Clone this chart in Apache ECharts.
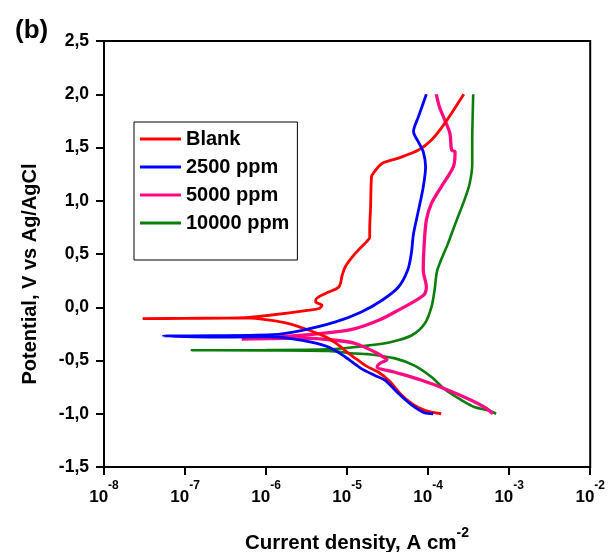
<!DOCTYPE html>
<html>
<head>
<meta charset="utf-8">
<script src="https://cdn.jsdelivr.net/npm/echarts@6/dist/echarts.min.js"></script>
<style>
  html, body { margin: 0; padding: 0; background: #fff; }
  #chart { width: 608px; height: 552px; }
</style>
</head>
<body>
<div id="chart"></div>
<script>
// Tafel polarization curves: current density (A cm^-2) vs potential (V vs Ag/AgCl)
// Each curve runs from the cathodic end (-1.0 V) through Ecorr up to +2.0 V.
const seriesNames = ['Blank', '2500 ppm', '5000 ppm', '10000 ppm'];

const blankCurrent = [1.45e-4, 9.1e-5, 6.3e-5, 4.5e-5, 3.4e-5, 2.45e-5, 1.8e-5, 1.38e-5, 1.05e-5, 7.9e-6,
  5.4e-6, 3.4e-6, 1.9e-6, 1.1e-6, 5.6e-7, 1.0e-7, 3.0e-8, 1.0e-7, 5.6e-7, 1.1e-6,
  3.4e-6, 4.5e-6, 4.9e-6, 4.1e-6, 4.1e-6, 5.4e-6, 7.9e-6, 8.7e-6, 9.5e-6, 1.26e-5,
  1.66e-5, 1.9e-5, 1.9e-5, 1.95e-5, 2.0e-5, 2.1e-5, 2.7e-5, 4.3e-5, 7.6e-5, 1.1e-4,
  1.6e-4, 2.75e-4];
const blankPotential = [-1.00, -0.968, -0.905, -0.81, -0.70, -0.61, -0.56, -0.50, -0.435, -0.357,
  -0.278, -0.216, -0.153, -0.12, -0.10, -0.105, -0.106, -0.104, -0.097, -0.075,
  -0.028, -0.012, 0.019, 0.05, 0.07, 0.13, 0.19, 0.30, 0.38, 0.505,
  0.60, 0.66, 0.72, 0.95, 1.225, 1.257, 1.35, 1.40, 1.476, 1.57,
  1.726, 2.0];

const ppm2500Current = [1.15e-4, 9.1e-5, 6.3e-5, 4.3e-5, 2.95e-5, 2.2e-5, 1.5e-5, 9.5e-6, 5.9e-6, 2.8e-6,
  1.1e-6, 3.9e-7, 5.4e-8, 1.2e-7, 1.2e-6, 2.8e-6, 7.2e-6, 1.5e-5, 2.7e-5, 4.3e-5,
  5.6e-5, 6.2e-5, 6.6e-5, 7.6e-5, 8.7e-5, 9.3e-5, 8.7e-5, 7.6e-5, 6.6e-5, 7.6e-5,
  9.5e-5];
const ppm2500Potential = [-1.0, -0.993, -0.92, -0.81, -0.686, -0.64, -0.576, -0.467, -0.373, -0.31,
  -0.278, -0.28, -0.27, -0.268, -0.257, -0.216, -0.138, -0.044, 0.066, 0.19,
  0.35, 0.505, 0.69, 0.91, 1.13, 1.32, 1.46, 1.55, 1.65, 1.79,
  2.0];

const ppm5000Current = [6.3e-4, 4.9e-4, 3.1e-4, 1.6e-4, 8.3e-5, 3.9e-5, 2.35e-5, 2.5e-5, 3.1e-5, 2.8e-5,
  2.2e-5, 1.26e-5, 7.2e-6, 2.8e-6, 5.0e-7, 1.1e-6, 2.8e-6, 7.2e-6, 1.26e-5, 2.45e-5,
  3.9e-5, 8.7e-5, 9.5e-5, 8.7e-5, 8.9e-5, 9.5e-5, 1.1e-4, 1.45e-4, 2.05e-4, 2.15e-4,
  1.95e-4, 1.86e-4, 1.6e-4, 1.38e-4, 1.26e-4];
const ppm5000Potential = [-1.0, -0.937, -0.86, -0.766, -0.686, -0.61, -0.56, -0.53, -0.49, -0.467,
  -0.42, -0.34, -0.31, -0.29, -0.30, -0.285, -0.263, -0.232, -0.20, -0.122,
  -0.044, 0.11, 0.19, 0.35, 0.567, 0.818, 0.975, 1.13, 1.32, 1.46,
  1.476, 1.63, 1.76, 1.88, 2.0];

const ppm10000Current = [6.9e-4, 5.5e-4, 3.7e-4, 2.6e-4, 1.6e-4, 1.1e-4, 6.9e-5, 3.9e-5, 1.8e-5, 1.26e-5,
  5.9e-6, 1.0e-6, 1.2e-7, 1.0e-6, 5.9e-6, 1.05e-5, 1.8e-5, 3.5e-5, 6.3e-5, 9.1e-5,
  1.1e-4, 1.2e-4, 1.3e-4, 1.76e-4, 2.25e-4, 2.8e-4, 3.25e-4, 3.5e-4, 3.5e-4, 3.55e-4,
  3.6e-4];
const ppm10000Potential = [-1.0, -0.968, -0.937, -0.874, -0.77, -0.655, -0.55, -0.48, -0.44, -0.435,
  -0.41, -0.405, -0.404, -0.402, -0.395, -0.38, -0.36, -0.326, -0.263, -0.153,
  0.003, 0.16, 0.35, 0.60, 0.818, 1.006, 1.16, 1.35, 1.57, 1.82,
  2.0];

const xTickExponents = [-8, -7, -6, -5, -4, -3, -2];
const yTicks = [-1.5, -1.0, -0.5, 0.0, 0.5, 1.0, 1.5, 2.0, 2.5];

const FONT = '"Liberation Sans", Arial, sans-serif';
const pairs = (xs, ys) => xs.map((x, i) => [x, ys[i]]);

const curves = [
  { name: seriesNames[0], color: '#ff0000', width: 2.8, z: 4, data: pairs(blankCurrent, blankPotential) },
  { name: seriesNames[1], color: '#0000ff', width: 2.8, z: 5, data: pairs(ppm2500Current, ppm2500Potential) },
  { name: seriesNames[2], color: '#ff0a82', width: 3.3, z: 3, data: pairs(ppm5000Current, ppm5000Potential) },
  { name: seriesNames[3], color: '#0a7d0a', width: 2.6, z: 2, data: pairs(ppm10000Current, ppm10000Potential) }
];

const chart = echarts.init(document.getElementById('chart'), null, { renderer: 'canvas' });

chart.setOption({
  animation: false,
  backgroundColor: '#fff',
  textStyle: { fontFamily: FONT },
  title: {
    text: '(b)', left: 10, top: 13,
    textStyle: { fontFamily: FONT, fontSize: 26, fontWeight: 'bold', color: '#000' }
  },
  grid: {
    left: 104, right: 15, top: 41, bottom: 85,
    show: true, borderColor: '#000', borderWidth: 2, backgroundColor: 'transparent'
  },
  legend: {
    data: seriesNames,
    orient: 'vertical',
    left: 134, top: 122,
    padding: [6, 8, 26, 6],
    itemGap: 6,
    itemWidth: 41, itemHeight: 3,
    icon: 'rect',
    borderColor: '#000', borderWidth: 1,
    backgroundColor: '#fff',
    textStyle: { fontFamily: FONT, fontSize: 20, fontWeight: 'bold', color: '#000', lineHeight: 22 }
  },
  xAxis: {
    type: 'log', logBase: 10, min: 1e-8, max: 1e-2,
    axisLine: { show: true, onZero: false, lineStyle: { color: '#000', width: 2 } },
    axisTick: { show: true, inside: false, length: 8, lineStyle: { color: '#000', width: 2 } },
    minorTick: { show: false },
    splitLine: { show: false },
    axisLabel: {
      margin: 13,
      formatter: v => {
        const e = Math.round(Math.log10(v));
        return xTickExponents.includes(e) ? '{b|10}{s|' + e + '}' : '';
      },
      rich: {
        b: { fontFamily: FONT, fontSize: 17, fontWeight: 'bold', color: '#000', lineHeight: 26, verticalAlign: 'bottom' },
        s: { fontFamily: FONT, fontSize: 12, fontWeight: 'bold', color: '#000', lineHeight: 12, verticalAlign: 'top' }
      }
    }
  },
  yAxis: {
    type: 'value', min: yTicks[0], max: yTicks[yTicks.length - 1], interval: 0.5,
    axisLine: { show: true, onZero: false, lineStyle: { color: '#000', width: 2 } },
    axisTick: { show: true, inside: false, length: 8, lineStyle: { color: '#000', width: 2 } },
    splitLine: { show: false },
    axisLabel: {
      margin: 15,
      fontFamily: FONT, fontSize: 17.5, fontWeight: 'bold', color: '#000',
      formatter: v => v.toFixed(1).replace('.', ',')
    }
  },
  graphic: [
    {
      type: 'text', x: 30, y: 274, rotation: Math.PI / 2,
      style: {
        text: 'Potential, V vs Ag/AgCl',
        fontFamily: FONT, fontSize: 20, fontWeight: 'bold', fill: '#000',
        align: 'center', verticalAlign: 'middle'
      }
    },
    {
      type: 'text', x: 357, y: 540,
      style: {
        text: '{t|Current density, A cm}{s|-2}',
        align: 'center', verticalAlign: 'middle',
        rich: {
          t: { fontFamily: FONT, fontSize: 20.5, fontWeight: 'bold', fill: '#000', lineHeight: 28, verticalAlign: 'bottom' },
          s: { fontFamily: FONT, fontSize: 14, fontWeight: 'bold', fill: '#000', lineHeight: 14, verticalAlign: 'top' }
        }
      }
    }
  ],
  series: curves.map(c => ({
    name: c.name,
    type: 'line',
    data: c.data,
    z: c.z,
    showSymbol: false,
    smooth: 0.3,
    color: c.color,
    lineStyle: { color: c.color, width: c.width },
    emphasis: { disabled: true }
  }))
});
</script>
</body>
</html>
